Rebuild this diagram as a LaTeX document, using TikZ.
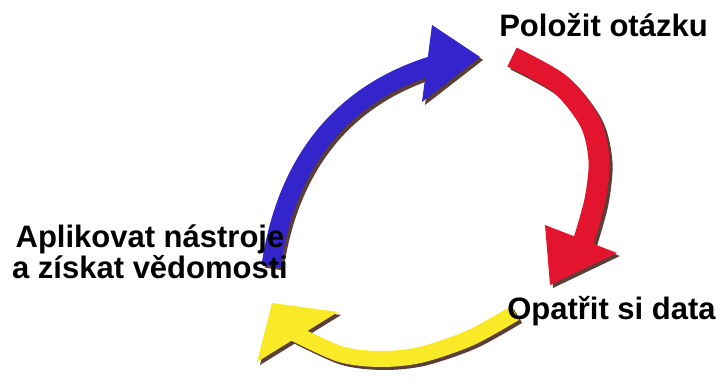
\documentclass[tikz,border=0pt]{standalone}
\usepackage{fontspec}
\setmainfont{Liberation Sans}
\usepackage{tikz}
\usetikzlibrary{positioning}
\definecolor{bluec}{RGB}{52,36,204}
\definecolor{redc}{RGB}{226,20,46}
\definecolor{yellowc}{RGB}{248,234,38}
\definecolor{shadowc}{RGB}{92,62,56}
\tikzset{
  shaft/.style = {line width=#1, line cap=butt},
  lbl/.style   = {font=\fontsize{31}{31}\selectfont\bfseries, inner sep=0pt, text=black},
}
\begin{document}
\begin{tikzpicture}[x=1pt, y=-1pt]
\fill[white] (0,0) rectangle (723,385);
\useasboundingbox (0,0) rectangle (723,385);

% ---- the three arrows: shadow first, then colour ----
\foreach \off/\cb/\cr/\cy in {3/shadowc/shadowc/shadowc, 0/bluec/redc/yellowc} {
  \begin{scope}[shift={(\off,\off)}]
    % apply -> ask
    \draw[shaft=19pt, draw=\cb] (271,266) .. controls (285,170) and (335,95) .. (434,65);
    \fill[fill=\cb] (432,25) -- (480,57) -- (422,102) -- cycle;
    % ask -> data
    \draw[shaft=21pt, draw=\cr] plot[smooth] coordinates {(512,57) (560,84) (590,122) (599,160) (595,200) (583,243)};
    \fill[fill=\cr] (545,225) -- (617,253) -- (550,285) -- cycle;
    % data -> apply
    \draw[shaft=16pt, draw=\cy] plot[smooth] coordinates {(515,313) (470,338) (420,355) (380,359) (340,354) (292,332)};
    \fill[fill=\cy] (272,303) -- (338,312) -- (257,362) -- cycle;
  \end{scope}
}

% ---- labels ----
\node[lbl, anchor=base] (ask) at (603.5,37) {Položit otázku};
\node[lbl, anchor=base] (data) at (611.5,319) {Opatřit si data};
\node[lbl, anchor=base, align=center] (apply) at (150,278) {Aplikovat nástroje\\a získat vědomosti};

\end{tikzpicture}
\end{document}
